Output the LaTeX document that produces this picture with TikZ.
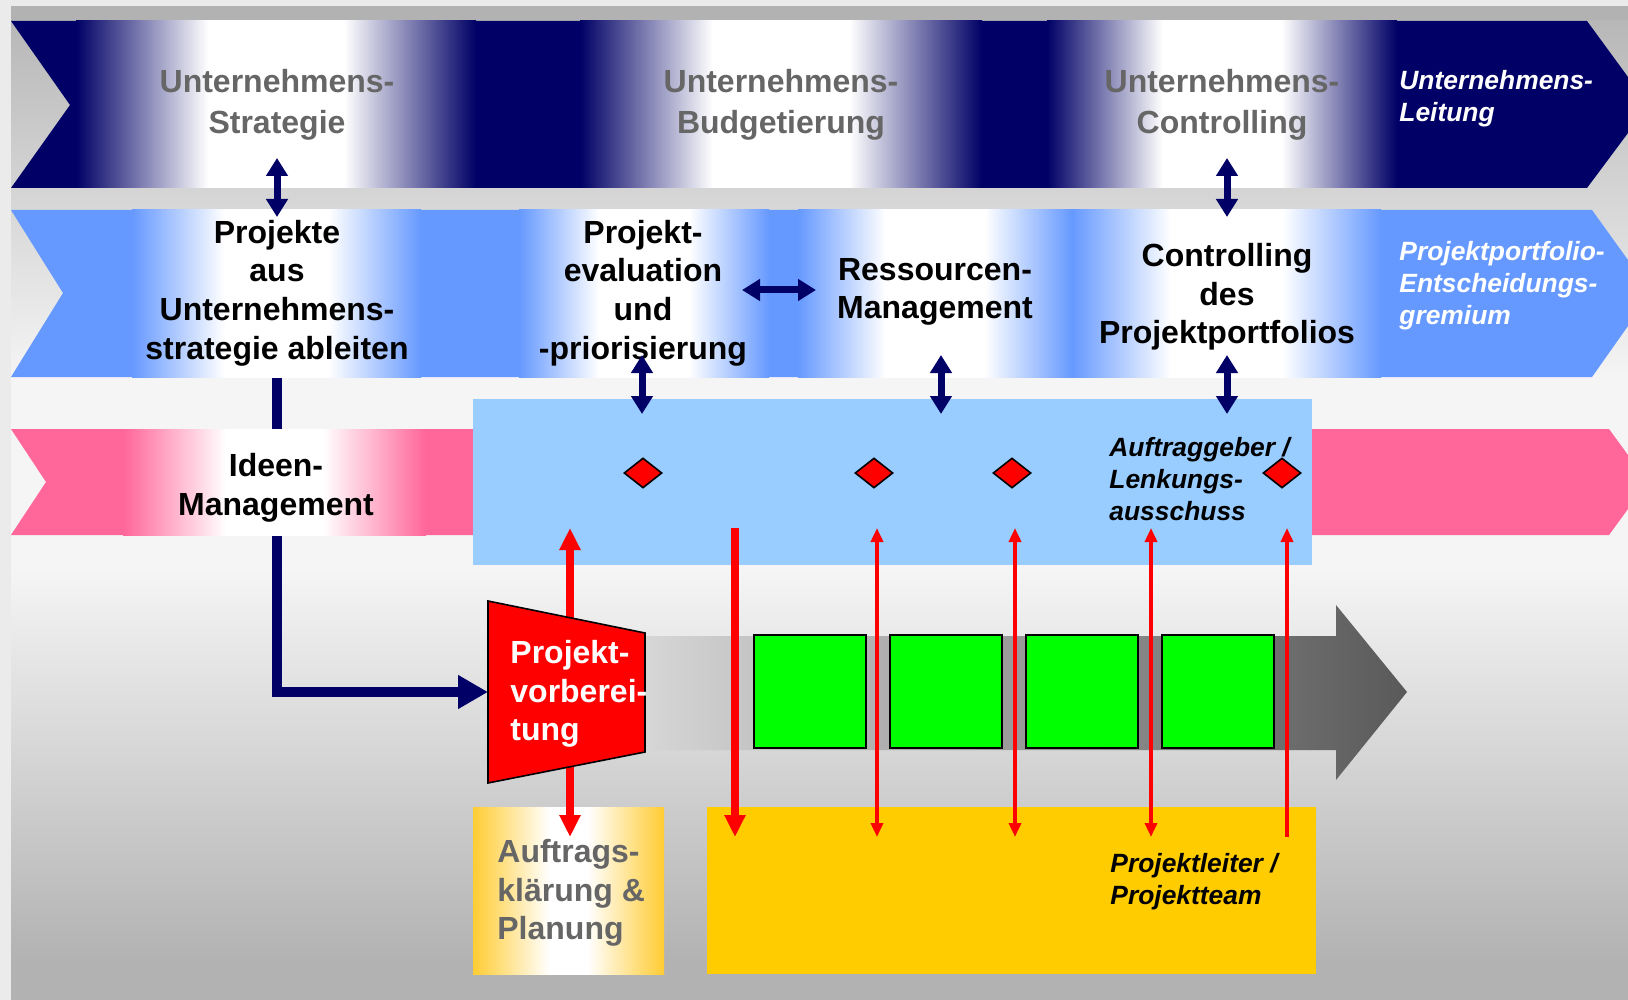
\documentclass[tikz,border=0pt]{standalone}
\usepackage{fontspec}
\setmainfont{Liberation Sans}
\usetikzlibrary{shapes.geometric,arrows.meta}
\definecolor{navy}{HTML}{000066}
\definecolor{rowblue}{HTML}{6699FF}
\definecolor{rowpink}{HTML}{FF6699}
\definecolor{boxblue}{HTML}{99CCFF}
\definecolor{boxorange}{HTML}{FFCC00}
\definecolor{gradorange}{HTML}{FFCC33}
\definecolor{txtgray}{HTML}{666666}
\definecolor{phasegreen}{HTML}{00FF00}
\pgfdeclarehorizontalshading{navyfade}{100bp}{color(0bp)=(navy); color(25bp)=(navy); color(41.5bp)=(white); color(58.5bp)=(white); color(75bp)=(navy); color(100bp)=(navy)}
\pgfdeclarehorizontalshading{bluefade}{100bp}{color(0bp)=(rowblue); color(25bp)=(rowblue); color(41bp)=(white); color(59bp)=(white); color(75bp)=(rowblue); color(100bp)=(rowblue)}
\pgfdeclarehorizontalshading{pinkfade}{100bp}{color(0bp)=(rowpink); color(25bp)=(rowpink); color(42bp)=(white); color(58bp)=(white); color(75bp)=(rowpink); color(100bp)=(rowpink)}
\pgfdeclarehorizontalshading{orangefade}{100bp}{color(0bp)=(gradorange); color(25bp)=(gradorange); color(45bp)=(white); color(55bp)=(white); color(75bp)=(gradorange); color(100bp)=(gradorange)}
\begin{document}
\begin{tikzpicture}[x=0.5pt,y=-0.5pt,
    toptext/.style={txtgray,font=\bfseries\fontsize{16}{20.5}\selectfont,align=center,inner sep=0},
    big/.style={font=\bfseries\fontsize{16}{19.3}\selectfont,align=center,inner sep=0},
    side/.style={font=\bfseries\itshape\fontsize{13.2}{16}\selectfont,align=left,inner sep=0,anchor=west},
    navyarr/.style={draw=navy,line width=3.5pt,>={Triangle[width=10.5pt,length=9pt]},<->},
    navyfat/.style={draw=navy,line width=5pt,-{Triangle[width=16pt,length=15pt]}},
    redfat/.style={draw=red,line width=4pt,>={Triangle[width=10pt,length=11pt]}},
    redthin/.style={draw=red,line width=2pt,>={Triangle[width=6pt,length=7pt]}},
    phase/.style={draw=black,line width=1pt,fill=phasegreen,minimum width=56pt,minimum height=56.5pt,inner sep=0},
    gate/.style={diamond,draw=black,line width=0.8pt,fill=red,minimum width=19pt,minimum height=15pt,inner sep=0}]
  \useasboundingbox (0,0) rectangle (1628,1000);
  \fill[black!8] (0,0) rectangle (1628,1000);
  \fill[black!30] (11,6) rectangle (1628,21);
  \shade[top color=black!28,bottom color=black!4] (11,21) rectangle (1628,380);
  \fill[black!4] (11,380) rectangle (1628,570);
  \shade[top color=black!4,bottom color=black!30] (11,570) rectangle (1628,960);
  \fill[black!30] (11,960) rectangle (1628,1000);

  \coordinate (projout) at (277,377);
  \coordinate (tzin) at (488,692);
  \draw[navyfat] (projout) |- (tzin);

  \fill[navy] (11,21) -- (1587,21) -- (1628,77) -- (1628,133) -- (1587,188) -- (11,188) -- (70,105) -- cycle;
  \foreach \a/\b in {76/476,580/982,1047/1397}
    \shade[shading=navyfade] (\a,21) rectangle (\b,188);

  \fill[rowblue] (11,210) -- (1592,210) -- (1628,260) -- (1628,326) -- (1592,377) -- (11,377) -- (63,293) -- cycle;
  \foreach \a/\b in {132/421,519/769,798/1072,1072/1381}
    \shade[shading=bluefade] (\a,210) rectangle (\b,377);

  \fill[rowpink] (11,429) -- (1609,429) -- (1628,455) -- (1628,509) -- (1609,535) -- (11,535) -- (46,482) -- cycle;
  \shade[shading=pinkfade] (123,429) rectangle (426,535);

  \node[fill=boxblue,minimum width=419.5pt,minimum height=83pt,inner sep=0] (lenk) at (892.5,482) {};
  \node[shading=orangefade,minimum width=95.5pt,minimum height=83.5pt,inner sep=0] (plan) at (568.5,890.5) {};
  \node[fill=boxorange,minimum width=304.5pt,minimum height=83.5pt,inner sep=0] (team) at (1011.5,890.5) {};

  \shade[left color=black!16,right color=black!65] (646,636) -- (1336,636) -- (1336,605) -- (1407,692) -- (1336,780) -- (1336,750) -- (646,750) -- cycle;
  \foreach \i in {1,...,4}
    \node[phase] (ph\i) at ({809.5+136*(\i-1)},691) {};

  \foreach \n/\x in {a/570,b/735,c/877,d/1015,e/1151,f/1287} {
    \coordinate (top\n) at (\x,528);
    \coordinate (bot\n) at (\x,837);
  }
  \draw[redfat,<->] (topa) -- (bota);
  \draw[redfat,->] (topb) -- (botb);
  \foreach \n in {c,d,e}
    \draw[redthin,<->] (top\n) -- (bot\n);
  \draw[redthin,<-] (topf) -- (botf);

  \draw[fill=red,line width=0.8pt] (488,601) -- (645,633) -- (645,752) -- (488,783) -- cycle;

  \node[gate] (g1) at (643,473) {};
  \node[gate] (g2) at (874,473) {};
  \node[gate] (g3) at (1012,473) {};
  \node[gate] (g4) at (1282,473) {};

  \node[toptext] (strat) at (277,105) {Unternehmens-\\Strategie};
  \node[toptext] (budget) at (781,105) {Unternehmens-\\Budgetierung};
  \node[toptext] (ctrl) at (1222,105) {Unternehmens-\\Controlling};
  \node[side,white] (leit) at (1399,99) {Unternehmens-\\Leitung};
  \node[big] (proj) at (277,293) {Projekte\\aus\\Unternehmens-\\strategie ableiten};
  \node[big] (eval) at (643,293) {Projekt-\\evaluation\\und\\-priorisierung};
  \node[big] (res) at (935,292) {Ressourcen-\\Management};
  \node[big] (cpf) at (1227,297) {Controlling\\des\\Projektportfolios};
  \node[side,white] (ppf) at (1399,286) {Projektportfolio-\\Entscheidungs-\\gremium};
  \node[big] (ideen) at (276,488) {Ideen-\\Management};
  \node[side] (lenkl) at (1109,479) {Auftraggeber /\\Lenkungs-\\ausschuss};
  \node[big,white,align=left,anchor=west] (prep) at (510,694) {Projekt-\\vorberei-\\tung};
  \node[big,txtgray,align=left,anchor=west] (planl) at (497,893) {Auftrags-\\klärung \&\\Planung};
  \node[side] (teaml) at (1110,882) {Projektleiter /\\Projektteam};

  \foreach \n/\x/\ya/\yb in {s/277/158/217,c/1227/158/217,e/642/355/414,r/941/355/414,p/1227/355/414} {
    \coordinate (\n1) at (\x,\ya);
    \coordinate (\n2) at (\x,\yb);
  }
  \coordinate (h1) at (742,290);
  \coordinate (h2) at (816,290);
  \foreach \n in {s,c,e,r,p}
    \draw[navyarr] (\n1) -- (\n2);
  \draw[navyarr] (h1) -- (h2);
\end{tikzpicture}
\end{document}
